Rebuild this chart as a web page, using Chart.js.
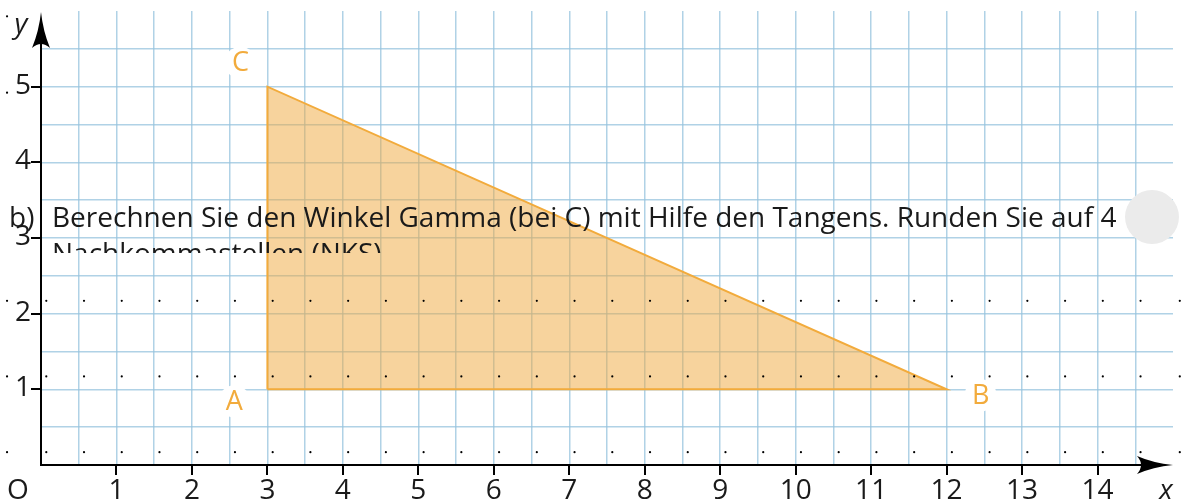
<!DOCTYPE html>
<html>
<head>
<meta charset="utf-8">
<script src="https://cdn.jsdelivr.net/npm/chart.js@4/dist/chart.umd.min.js"></script>
<style>
html,body{margin:0;padding:0;background:#fff;}
#wrap{width:1181px;height:503px;position:relative;}
</style>
</head>
<body>
<div id="wrap"><canvas id="c" width="1181" height="503"></canvas></div>
<script>
// ---- data ----
const xTickValues = [1,2,3,4,5,6,7,8,9,10,11,12,13,14];
const yTickValues = [1,2,3,4,5];
const vertexNames = ['A','B','C'];
const vertexX = [3,12,3];
const vertexY = [1,1,5];
const dotRowY = [0.17,1.17,2.17];
const dotX = [0.07,0.57,1.07,1.57,2.07,2.57,3.07,3.57,4.07,4.57,5.07,5.57,6.07,6.57,7.07,7.57,8.07,8.57,9.07,9.57,10.07,10.57,11.07,11.57,12.07,12.57,13.07,13.57,14.07,14.57];
const outerDotX = [-0.45,-0.45,-0.45,-0.45,-0.45,15.09,15.09,15.09];
const outerDotY = [5.93,4.92,2.17,1.17,0.17,2.17,1.17,0.17];
const taskLine1 = 'b)';
const taskLine1b = 'Berechnen Sie den Winkel Gamma (bei C) mit Hilfe den Tangens. Runden Sie auf 4';
const taskLine2 = 'Nachkommastellen (NKS)';

// ---- build datasets ----
const triData = vertexX.map((x,i)=>({x:x,y:vertexY[i]}));
triData.push({x:vertexX[0],y:vertexY[0]});
const dotData = [];
dotRowY.forEach(y=>dotX.forEach(x=>dotData.push({x:x,y:y})));

const FONT = '"Open Sans", "Noto Sans", sans-serif';
const ORANGE = '#f2ab3c';

const overlay = {
  id:'overlay',
  afterDatasetsDraw(chart){
    const ctx = chart.ctx;
    const xs = chart.scales.x, ys = chart.scales.y;
    const x0 = xs.getPixelForValue(0), y0 = ys.getPixelForValue(0);
    ctx.save();
    // dots outside the plot range
    ctx.fillStyle='#000';
    outerDotX.forEach((x,i)=>{
      ctx.beginPath(); ctx.arc(xs.getPixelForValue(x), ys.getPixelForValue(outerDotY[i]), 1.1, 0, Math.PI*2); ctx.fill();
    });
    // vertex labels
    const offs = [[-33,12],[34,6],[-27,-24]];
    ctx.font = '27px ' + FONT;
    ctx.textAlign='center'; ctx.textBaseline='middle';
    vertexNames.forEach((n,i)=>{
      const px = xs.getPixelForValue(vertexX[i]) + offs[i][0];
      const py = ys.getPixelForValue(vertexY[i]) + offs[i][1];
      ctx.fillStyle='#fff';
      ctx.beginPath(); ctx.arc(px,py,16,0,Math.PI*2); ctx.fill();
      ctx.fillStyle=ORANGE;
      ctx.fillText(n,px,py+1);
    });
    // axes
    ctx.strokeStyle='#000'; ctx.fillStyle='#000'; ctx.lineWidth=2;
    const xEnd = xs.getPixelForValue(15);
    const yTop = ys.getPixelForValue(6);
    ctx.beginPath();
    ctx.moveTo(x0-1,y0); ctx.lineTo(xEnd-10,y0);
    ctx.moveTo(x0,y0+1); ctx.lineTo(x0,yTop+10);
    ctx.stroke();
    // x arrow
    ctx.beginPath();
    ctx.moveTo(xEnd,y0);
    ctx.quadraticCurveTo(xEnd-20,y0-2,xEnd-36,y0-9);
    ctx.quadraticCurveTo(xEnd-28,y0,xEnd-36,y0+9);
    ctx.quadraticCurveTo(xEnd-20,y0+2,xEnd,y0);
    ctx.fill();
    // y arrow
    ctx.beginPath();
    ctx.moveTo(x0,yTop+1);
    ctx.quadraticCurveTo(x0-2,yTop+20,x0-9,yTop+37);
    ctx.quadraticCurveTo(x0,yTop+29,x0+9,yTop+37);
    ctx.quadraticCurveTo(x0+2,yTop+20,x0,yTop+1);
    ctx.fill();
    // ticks
    ctx.beginPath();
    xTickValues.forEach(v=>{const p=Math.round(xs.getPixelForValue(v)); ctx.moveTo(p,y0); ctx.lineTo(p,y0+10);});
    yTickValues.forEach(v=>{const p=Math.round(ys.getPixelForValue(v)); ctx.moveTo(x0,p); ctx.lineTo(x0-10,p);});
    ctx.stroke();
    // tick labels
    ctx.fillStyle='#1a1a1a';
    ctx.font='28px ' + FONT;
    ctx.textAlign='center'; ctx.textBaseline='alphabetic';
    xTickValues.forEach(v=>ctx.fillText(String(v), xs.getPixelForValue(v), y0+34));
    ctx.fillText('O', 18, y0+34);
    ctx.textAlign='right'; ctx.textBaseline='middle';
    yTickValues.forEach(v=>ctx.fillText(String(v), x0-10, ys.getPixelForValue(v)-1));
    ctx.textAlign='center'; ctx.textBaseline='alphabetic';
    ctx.font='italic 28px ' + FONT;
    ctx.fillText('x', xEnd-7, y0+34);
    ctx.fillText('y', 21, 33);
    // task text (clipped)
    ctx.save();
    ctx.beginPath(); ctx.rect(0,190,1181,63); ctx.clip();
    ctx.fillStyle='#1a1a1a';
    ctx.font='28px ' + FONT;
    ctx.textAlign='left'; ctx.textBaseline='alphabetic';
    ctx.fillText(taskLine1, 9, 227);
    ctx.fillText(taskLine1b, 52, 227);
    ctx.fillText(taskLine2, 52, 263);
    ctx.restore();
    // grey circle
    ctx.fillStyle='#ebebeb';
    ctx.beginPath(); ctx.arc(1152,217,27,0,Math.PI*2); ctx.fill();
    ctx.restore();
  }
};

const gridColor = (maxV)=>(c)=>{
  const v = c.tick ? c.tick.value : null;
  if (v===null || v===0 || v===maxV) return 'rgba(0,0,0,0)';
  return 'rgba(150,195,222,0.75)';
};

new Chart(document.getElementById('c'), {
  type:'scatter',
  data:{datasets:[
    {data:triData, showLine:true, fill:'shape', backgroundColor:'rgba(240,168,60,0.5)', borderColor:ORANGE, borderWidth:2, pointRadius:0, tension:0, order:2},
    {data:dotData, showLine:false, pointRadius:1.1, pointBackgroundColor:'#000', pointBorderWidth:0, clip:false, order:1}
  ]},
  options:{
    responsive:false, animation:false, devicePixelRatio:1,
    layout:{padding:{left:41,right:8,top:11,bottom:38}},
    plugins:{legend:{display:false}, tooltip:{enabled:false}},
    scales:{
      x:{type:'linear', min:0, max:15, border:{display:false},
         ticks:{display:false, stepSize:0.5},
         grid:{drawTicks:false, color:gridColor(15), lineWidth:1.5}},
      y:{type:'linear', min:0, max:6, border:{display:false},
         ticks:{display:false, stepSize:0.5},
         grid:{drawTicks:false, color:gridColor(6), lineWidth:1.5}}
    }
  },
  plugins:[overlay]
});
</script>
</body>
</html>
